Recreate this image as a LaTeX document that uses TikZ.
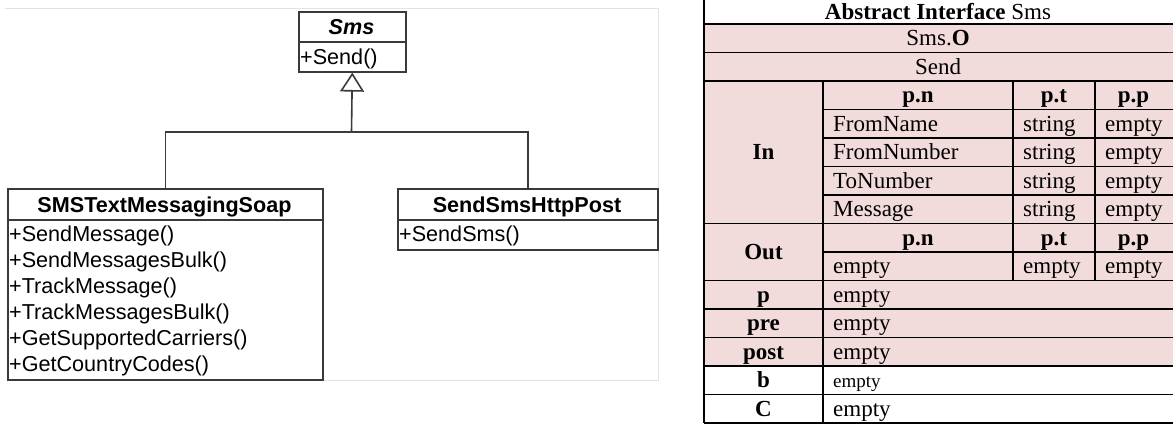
\documentclass[tikz,border=0pt]{standalone}
\usepackage{fontspec}
\setmainfont{Liberation Serif}
\newfontfamily\umlfont{Liberation Sans}
\usepackage{xcolor}
\usetikzlibrary{arrows.meta}
\definecolor{cellpink}{HTML}{F2DBDB}
\definecolor{umlgray}{HTML}{3A3A3A}
\newcommand{\umlsize}{\fontsize{21.6}{26}\selectfont}
\newcommand{\cellsize}{\fontsize{23}{28}\selectfont}
\tikzset{
    ClassBox/.style = {draw=umlgray,line width=1.6pt,fill=white,anchor=north west,inner sep=0pt},
    ClassName/.style = {font=\umlfont\umlsize\bfseries,anchor=base,inner sep=0pt},
    Member/.style = {font=\umlfont\umlsize,anchor=base west,inner sep=0pt},
    Generalize/.style = {draw=umlgray,line width=1.6pt},
    Cell/.style = {font=\cellsize,anchor=base west,inner sep=0pt},
    Label/.style = {font=\cellsize,anchor=base,inner sep=0pt},
    Head/.style = {font=\cellsize\bfseries,anchor=base,inner sep=0pt},
    Grid/.style = {line width=1.4pt}
}
\begin{document}
\begin{tikzpicture}[x=1pt,y=-1pt]
        \useasboundingbox (0,0) rectangle (1173,424);
        % class diagram
        \draw[gray!22,line width=1pt] (5,8) -- (658,8) -- (658,380) -- (7,380);
        \node[ClassBox,minimum width=107pt,minimum height=60pt] (sms) at (298,11) {};
        \draw[Generalize] (298,42) -- (405,42);
        \node[ClassName,font=\umlfont\umlsize\bfseries\itshape] (sms-name) at (351.5,34) {Sms};
        \node[Member] (sms-send) at (300,64) {+Send()};
        \node[ClassBox,minimum width=315pt,minimum height=191pt] (soap) at (7,188) {};
        \draw[Generalize] (7,220) -- (322,220);
        \node[ClassName] (soap-name) at (164.5,212) {SMSTextMessagingSoap};
        \foreach \m [count=\i, evaluate=\i as \y using 215+26*\i] in
            {SendMessage,SendMessagesBulk,TrackMessage,TrackMessagesBulk,GetSupportedCarriers,GetCountryCodes}
            {\node[Member] (soap-\i) at (9,\y) {+\m()};}
        \node[ClassBox,minimum width=260pt,minimum height=61pt] (post) at (397,188) {};
        \draw[Generalize] (397,220) -- (657,220);
        \node[ClassName] (post-name) at (527,212) {SendSmsHttpPost};
        \node[Member] (post-1) at (399,241) {+SendSms()};
        \coordinate (joint) at (351.5,132);
        \draw[Generalize] (soap.north) |- (joint) -| (post.north);
        \draw[Generalize,-{Triangle[open,length=19pt,width=24pt]}] (joint) -- (sms.south);
        % interface table
        \fill[cellpink] (704,24) rectangle (1173,366);
        \foreach \y in {24,52.5,81,223.5,280.5,309,337.5,366,394.5,423}
            {\draw[Grid] (704,\y) -- (1173,\y);}
        \foreach \y in {109.5,138,166.5,195,252}
            {\draw[Grid] (823,\y) -- (1173,\y);}
        \draw[Grid] (704,0) -- (704,423);
        \draw[Grid] (823,81) -- (823,423);
        \foreach \x in {1013,1095}
            {\draw[Grid] (\x,81) -- (\x,280.5);}
        \node[Label] (title) at (938,19) {\textbf{Abstract Interface} Sms};
        \node[Label] (obj) at (938,45.5) {Sms.\textbf{O}};
        \node[Label] (op) at (938,74) {Send};
        \node[Head] (in) at (763.5,159.5) {In};
        \node[Head] (out) at (763.5,259) {Out};
        \foreach \h/\x [count=\i] in {p.n/918,p.t/1054,p.p/1133.5}
            {\node[Head] (in-head-\i) at (\x,102.5) {\h};
             \node[Head] (out-head-\i) at (\x,245) {\h};}
        \foreach \n [count=\i, evaluate=\i as \y using 102.5+28.5*\i] in {FromName,FromNumber,ToNumber,Message}
            {\node[Cell] (in-name-\i) at (833,\y) {\n};
             \node[Cell] (in-type-\i) at (1023,\y) {string};
             \node[Cell] (in-prop-\i) at (1105,\y) {empty};}
        \node[Cell] (out-name) at (833,273.5) {empty};
        \node[Cell] (out-type) at (1023,273.5) {empty};
        \node[Cell] (out-prop) at (1105,273.5) {empty};
        \foreach \l/\y [count=\i] in {p/302,pre/330.5,post/359,b/387.5,C/416}
            {\node[Head] (key-\i) at (763.5,\y) {\l};}
        \foreach \y [count=\i] in {302,330.5,359,416}
            {\node[Cell] (val-\i) at (833,\y) {empty};}
        \node[Cell,font=\fontsize{19}{23}\selectfont] (val-b) at (833,387.5) {empty};
\end{tikzpicture}
\end{document}
